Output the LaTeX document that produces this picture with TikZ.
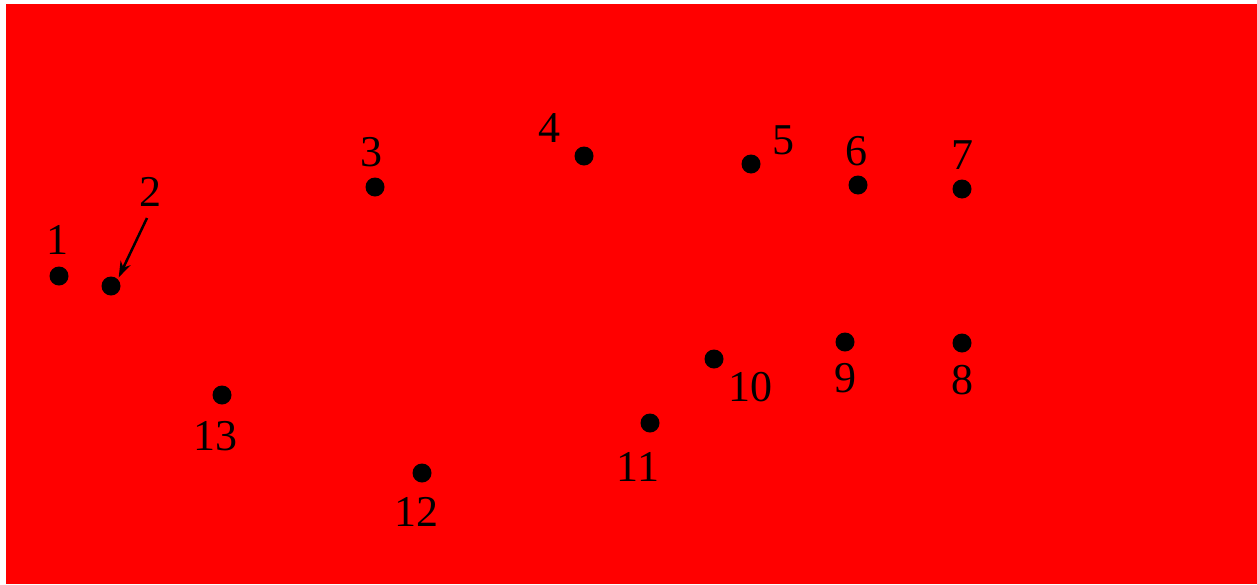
\documentclass[tikz,border=0pt]{standalone}
\usepackage{fontspec}
\setmainfont{Liberation Serif}
\usetikzlibrary{arrows.meta}
\usetikzlibrary{positioning}

\begin{document}
\begin{tikzpicture}[
  x=1pt, y=-1pt,
  dot/.style={circle, fill=black, minimum size=19pt, inner sep=0pt},
  num/.style={font=\fontsize{44}{44}\selectfont, inner sep=0pt, text=black}
]
  \useasboundingbox (0,0) rectangle (1257,584);
  \fill[red] (6,4) rectangle (1257,584);

  \node[dot] (d1)  at (59,276)  {};
  \node[dot] (d2)  at (111,286) {};
  \node[dot] (d3)  at (375,187) {};
  \node[dot] (d4)  at (584,156) {};
  \node[dot] (d5)  at (751,164) {};
  \node[dot] (d6)  at (858,185) {};
  \node[dot] (d7)  at (962,189) {};
  \node[dot] (d8)  at (962,343) {};
  \node[dot] (d9)  at (845,342) {};
  \node[dot] (d10) at (714,359) {};
  \node[dot] (d11) at (650,423) {};
  \node[dot] (d12) at (422,473) {};
  \node[dot] (d13) at (222,395) {};

  \node[num] (n1)  at (57,240)  {1};
  \node[num] (n2)  at (150,192) {2};
  \node[num] (n3)  at (371,152) {3};
  \node[num] (n4)  at (549,128) {4};
  \node[num] (n5)  at (783,140) {5};
  \node[num] (n6)  at (856,151) {6};
  \node[num] (n7)  at (962,155) {7};
  \node[num] (n8)  at (962,380) {8};
  \node[num] (n9)  at (845,378) {9};
  \node[num] (n10) at (750,387) {10};
  \node[num] (n11) at (638,467) {11};
  \node[num] (n12) at (416,512) {12};
  \node[num] (n13) at (215,436) {13};

  \coordinate (a2) at (147,218);
  \draw[-{Stealth[length=16pt, width=11pt]}, line width=2.5pt, shorten >=2pt] (a2) -- (d2.north east);
\end{tikzpicture}
\end{document}
